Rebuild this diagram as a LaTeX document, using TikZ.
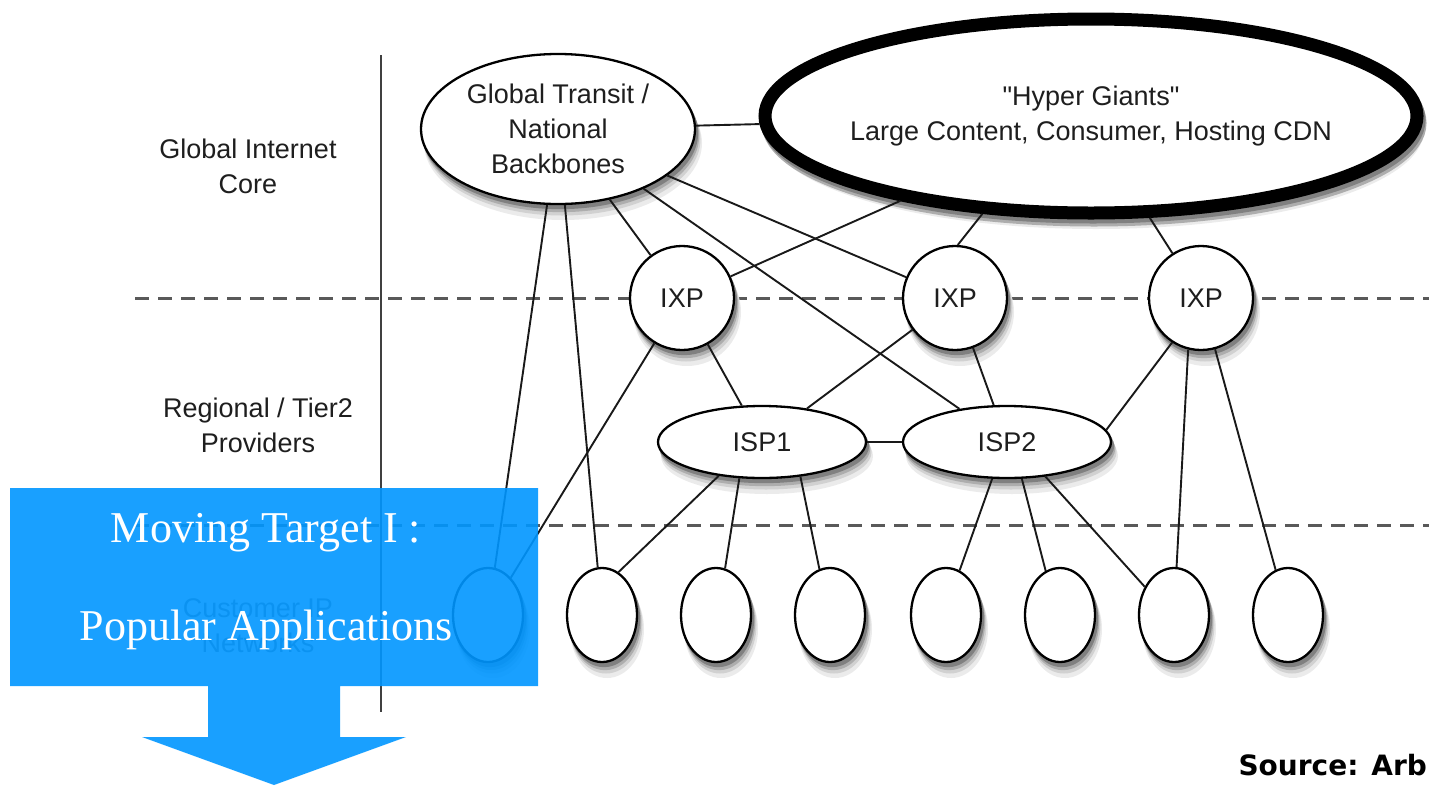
\documentclass[tikz,border=0pt]{standalone}
\usepackage{fontspec}
\setmainfont{Liberation Sans}[Ligatures=TeXOff]
\newfontfamily\boxfont{Liberation Serif}
\newfontfamily\srcfont{DejaVu Sans}
\usetikzlibrary{shapes.geometric}

\definecolor{movblue}{RGB}{0,150,255}
\definecolor{inkgray}{RGB}{30,30,30}

\begin{document}
\begin{tikzpicture}[x=1pt, y=-1pt,
		every node/.style={text=inkgray, font=\fontsize{27}{35}\selectfont},
		% soft shadow: grey copies shifted down and right
		nd/.style={draw=black, line width=2.3pt, fill=white, inner sep=0pt,
			preaction={fill=black!8, draw=black!8, line width=4pt, transform canvas={xshift=5pt, yshift=-14pt}},
			preaction={fill=black!18, draw=black!18, line width=3pt, transform canvas={xshift=4pt, yshift=-10pt}},
			preaction={fill=black!32, draw=black!32, transform canvas={xshift=3pt, yshift=-7pt}},
			preaction={fill=black!50, draw=black!50, transform canvas={xshift=2pt, yshift=-4pt}}},
		ixp/.style={nd, circle, minimum size=104pt},
		isp/.style={nd, ellipse, minimum width=208pt, minimum height=72pt},
		cust/.style={nd, ellipse, minimum width=70pt, minimum height=94pt},
		link/.style={line width=1.9pt, draw=black!90},
		layer/.style={line width=3pt, draw=black!65, dash pattern=on 14pt off 9pt}]
		\useasboundingbox (0,0) rectangle (1429,785);
		
		% tier boundaries and left column
		\draw [layer] (135,298) -- (1429,298);
		\draw [layer] (135,525) -- (1429,525);
		\draw [line width=2.5pt, draw=black!75] (381,55) -- (381,712);
		\node (core) [align=center] at (248,166) {Global Internet\\Core};
		\node (tier2) [align=center] at (258,425) {Regional / Tier2\\Providers};
		\node (custip) [align=center, text=black!55] at (258,626) {Customer IP\\Networks};
		
		\node (GT) [nd, ellipse, align=center, minimum width=274pt, minimum height=150pt] at (558,129) {Global Transit /\\National\\Backbones};
		\node (HG) [nd, ellipse, align=center, line width=13pt, inner xsep=-14pt, minimum width=652pt, minimum height=194pt] at (1091,116) {"Hyper Giants"\\Large Content, Consumer, Hosting CDN};
		
		\node (IXP1) [ixp] at (682,298) {IXP};
		\node (IXP2) [ixp] at (955,298) {IXP};
		\node (IXP3) [ixp] at (1201,298) {IXP};
		
		\node (ISP1) [isp] at (762,442) {ISP1};
		\node (ISP2) [isp] at (1007,442) {ISP2};
		
		\node (C1) [cust] at (488,615) {};
		\node (C2) [cust] at (602,615) {};
		\node (C3) [cust] at (716,615) {};
		\node (C4) [cust] at (830,615) {};
		\node (C5) [cust] at (946,615) {};
		\node (C6) [cust] at (1060,615) {};
		\node (C7) [cust] at (1174,615) {};
		\node (C8) [cust] at (1288,615) {};
		
		\draw [link] (GT) -- (HG);
		\draw [link] (GT) -- (C1);
		\draw [link] (GT) -- (C2);
		\draw [link] (GT) -- (IXP1);
		\draw [link] (GT) -- (IXP2);
		\draw [link] (GT) -- (ISP2);
		\draw [link] (HG) -- (IXP1);
		\draw [link] (HG.222) -- (IXP2.87);
		\draw [link] (HG.300) -- (IXP3);
		\draw [link] (IXP1) -- (C1);
		\draw [link] (IXP1) -- (ISP1);
		\draw [link] (IXP2) -- (ISP1);
		\draw [link] (IXP2) -- (ISP2);
		\draw [link] (IXP3.237) -- (ISP2.7);
		\draw [link] (IXP3.256) -- (C7);
		\draw [link] (IXP3) -- (C8);
		\draw [link] (ISP1) -- (ISP2);
		\draw [link] (ISP1.218) -- (C2.69);
		\draw [link] (ISP1.238) -- (C3.79);
		\draw [link] (ISP1.318) -- (C4.103);
		\draw [link] (ISP2.248) -- (C5.73);
		\draw [link] (ISP2.292) -- (C6.108);
		\draw [link] (ISP2.318) -- (C7.136);
		
		% blue callout on top
		\fill [movblue, fill opacity=0.9] (10,488) -- (538,488) -- (538,686) -- (340,686) -- (340,737)
			-- (406,737) -- (274,785) -- (142,737) -- (208,737) -- (208,686) -- (10,686) -- cycle;
		\node (mv1) [anchor=base, text=white, font=\boxfont\fontsize{44}{50}\selectfont] at (266,542) {Moving Target I :};
		\node (mv2) [anchor=base, text=white, font=\boxfont\fontsize{44}{50}\selectfont] at (266,640) {Popular Applications};
		
		\node (src) [anchor=base west, text=black, font=\srcfont\bfseries\fontsize{28}{30}\selectfont] at (1235,775) {Source: Arb};
\end{tikzpicture}
\end{document}
